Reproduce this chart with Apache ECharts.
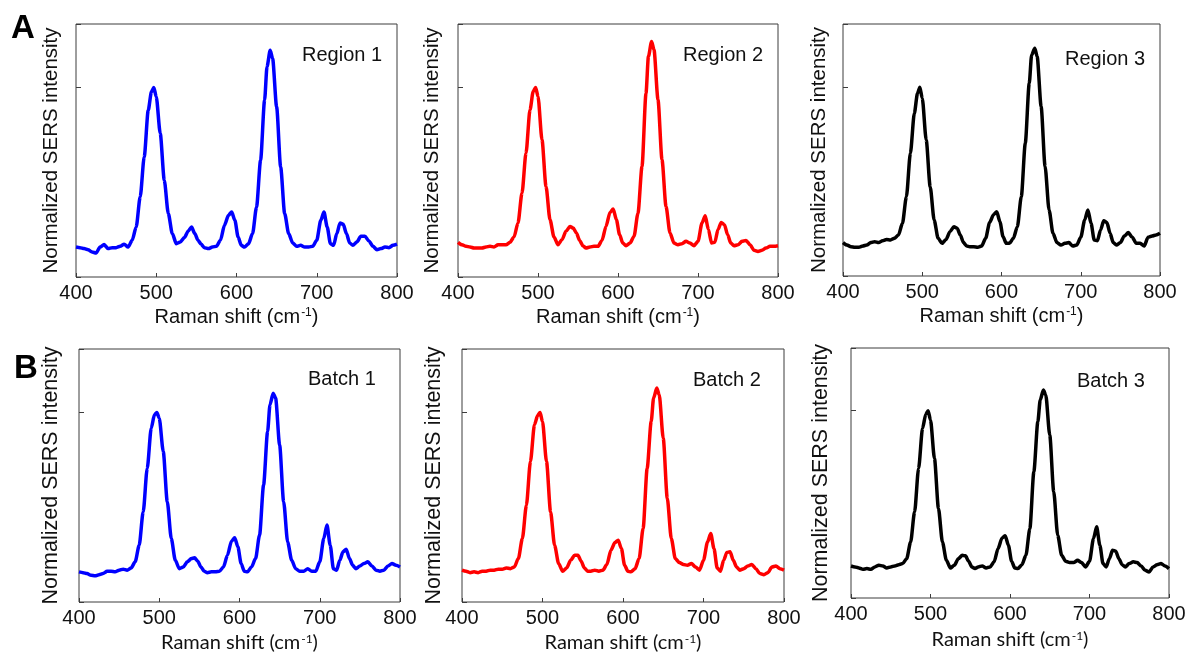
<!DOCTYPE html>
<html>
<head>
<meta charset="utf-8">
<title>SERS spectra</title>
<script src="https://cdn.jsdelivr.net/npm/echarts@6/dist/echarts.min.js"></script>
<style>
  html, body { margin: 0; padding: 0; background: #ffffff; }
  #chart { width: 1189px; height: 655px; }
</style>
</head>
<body>
<div id="chart"></div>
<script>
// Raman shift grid (cm-1) shared by every spectrum
const ramanShift = [
  400, 405, 410, 415, 420, 425, 430, 435, 440, 445,
  450, 455, 460, 465, 470, 475, 480, 485, 490, 494,
  497, 500, 505, 510, 515, 520, 525, 530, 535, 540,
  544, 548, 552, 556, 560, 565, 570, 575, 580, 585,
  590, 594, 598, 602, 606, 610, 615, 620, 625, 630,
  635, 638, 642, 645, 650, 655, 660, 665, 670, 675,
  680, 685, 690, 695, 700, 705, 709, 713, 717, 721,
  725, 729, 733, 737, 741, 745, 750, 755, 760, 765,
  770, 775, 780, 785, 790, 795, 800
];

// Normalized SERS intensity (497 cm-1 band = 1)
const region1 = [
  0.158, 0.155, 0.150, 0.144, 0.132, 0.127, 0.158, 0.171, 0.150, 0.155,
  0.155, 0.162, 0.173, 0.158, 0.194, 0.264, 0.423, 0.634, 0.880, 0.977,
  1.000, 0.951, 0.757, 0.511, 0.335, 0.229, 0.176, 0.185, 0.208, 0.243,
  0.264, 0.229, 0.194, 0.173, 0.155, 0.150, 0.158, 0.162, 0.194, 0.273,
  0.326, 0.343, 0.299, 0.211, 0.167, 0.158, 0.176, 0.229, 0.370, 0.616,
  0.933, 1.109, 1.197, 1.153, 0.898, 0.581, 0.335, 0.229, 0.180, 0.162,
  0.167, 0.158, 0.158, 0.162, 0.194, 0.299, 0.343, 0.264, 0.176, 0.167,
  0.229, 0.285, 0.278, 0.229, 0.180, 0.167, 0.185, 0.215, 0.215, 0.190,
  0.162, 0.144, 0.150, 0.158, 0.155, 0.167, 0.173
];
const region2 = [
  0.183, 0.170, 0.162, 0.158, 0.153, 0.153, 0.153, 0.158, 0.162, 0.158,
  0.170, 0.170, 0.170, 0.183, 0.211, 0.285, 0.443, 0.654, 0.882, 0.979,
  1.000, 0.953, 0.724, 0.478, 0.302, 0.211, 0.170, 0.197, 0.241, 0.267,
  0.258, 0.232, 0.193, 0.165, 0.153, 0.158, 0.162, 0.162, 0.193, 0.267,
  0.341, 0.359, 0.302, 0.223, 0.179, 0.165, 0.179, 0.214, 0.337, 0.583,
  0.970, 1.163, 1.243, 1.199, 0.935, 0.619, 0.373, 0.232, 0.179, 0.170,
  0.176, 0.188, 0.179, 0.165, 0.188, 0.285, 0.323, 0.250, 0.179, 0.183,
  0.250, 0.288, 0.276, 0.223, 0.179, 0.165, 0.170, 0.188, 0.193, 0.170,
  0.141, 0.135, 0.141, 0.153, 0.162, 0.162, 0.165
];
const region3 = [
  0.177, 0.164, 0.155, 0.152, 0.152, 0.159, 0.164, 0.177, 0.182, 0.177,
  0.187, 0.194, 0.191, 0.200, 0.217, 0.279, 0.420, 0.650, 0.862, 0.968,
  1.000, 0.942, 0.721, 0.473, 0.297, 0.200, 0.173, 0.194, 0.235, 0.261,
  0.253, 0.217, 0.177, 0.159, 0.155, 0.155, 0.152, 0.159, 0.200, 0.283,
  0.325, 0.340, 0.288, 0.208, 0.173, 0.173, 0.200, 0.261, 0.420, 0.703,
  1.021, 1.171, 1.207, 1.163, 0.898, 0.580, 0.350, 0.226, 0.177, 0.164,
  0.173, 0.177, 0.159, 0.164, 0.205, 0.297, 0.350, 0.279, 0.191, 0.187,
  0.244, 0.293, 0.283, 0.226, 0.177, 0.164, 0.177, 0.212, 0.230, 0.205,
  0.173, 0.173, 0.159, 0.205, 0.212, 0.217, 0.226
];
const batch1 = [
  0.159, 0.155, 0.150, 0.141, 0.138, 0.144, 0.150, 0.162, 0.162, 0.159,
  0.168, 0.173, 0.168, 0.180, 0.212, 0.300, 0.476, 0.705, 0.917, 0.988,
  1.000, 0.970, 0.794, 0.529, 0.335, 0.220, 0.176, 0.185, 0.212, 0.229,
  0.233, 0.215, 0.185, 0.162, 0.155, 0.159, 0.159, 0.162, 0.185, 0.247,
  0.321, 0.339, 0.291, 0.203, 0.162, 0.159, 0.185, 0.229, 0.353, 0.617,
  0.899, 1.041, 1.102, 1.076, 0.829, 0.529, 0.317, 0.220, 0.176, 0.162,
  0.162, 0.176, 0.162, 0.162, 0.212, 0.335, 0.406, 0.300, 0.176, 0.168,
  0.220, 0.265, 0.279, 0.229, 0.194, 0.176, 0.190, 0.203, 0.212, 0.190,
  0.168, 0.162, 0.168, 0.190, 0.203, 0.194, 0.185
];
const batch2 = [
  0.168, 0.162, 0.155, 0.159, 0.155, 0.162, 0.162, 0.168, 0.168, 0.173,
  0.173, 0.180, 0.176, 0.185, 0.229, 0.335, 0.511, 0.741, 0.935, 0.984,
  1.000, 0.952, 0.741, 0.476, 0.300, 0.203, 0.162, 0.180, 0.220, 0.247,
  0.247, 0.215, 0.180, 0.162, 0.162, 0.168, 0.162, 0.168, 0.198, 0.273,
  0.314, 0.326, 0.282, 0.194, 0.162, 0.159, 0.176, 0.229, 0.388, 0.705,
  0.952, 1.076, 1.129, 1.093, 0.864, 0.547, 0.335, 0.229, 0.208, 0.198,
  0.194, 0.203, 0.185, 0.168, 0.220, 0.317, 0.362, 0.282, 0.180, 0.162,
  0.220, 0.261, 0.265, 0.220, 0.185, 0.168, 0.176, 0.190, 0.198, 0.176,
  0.150, 0.144, 0.155, 0.185, 0.190, 0.176, 0.168
];
const batch3 = [
  0.171, 0.166, 0.160, 0.153, 0.157, 0.153, 0.166, 0.175, 0.171, 0.160,
  0.166, 0.171, 0.178, 0.184, 0.210, 0.299, 0.460, 0.692, 0.906, 0.980,
  1.000, 0.950, 0.745, 0.478, 0.299, 0.201, 0.160, 0.175, 0.210, 0.228,
  0.225, 0.196, 0.166, 0.157, 0.166, 0.171, 0.160, 0.166, 0.193, 0.264,
  0.321, 0.332, 0.282, 0.196, 0.160, 0.157, 0.178, 0.228, 0.371, 0.674,
  0.941, 1.057, 1.111, 1.084, 0.870, 0.567, 0.335, 0.228, 0.196, 0.189,
  0.189, 0.201, 0.189, 0.166, 0.196, 0.317, 0.380, 0.282, 0.184, 0.166,
  0.210, 0.255, 0.250, 0.210, 0.178, 0.166, 0.184, 0.193, 0.189, 0.171,
  0.148, 0.139, 0.166, 0.178, 0.184, 0.171, 0.157
];

const panelNames = ['Region 1', 'Region 2', 'Region 3', 'Batch 1', 'Batch 2', 'Batch 3'];
const panelData = [region1, region2, region3, batch1, batch2, batch3];
const sectionLetters = ['A', 'B'];
const xAxisTitle = 'Raman shift (cm{sup|-1})';
const yAxisTitle = 'Normalized SERS intensity';

// Layout of the six plot frames (pixels)
const frames = [
  { left: 76,  top: 24,  width: 321, height: 253, yGap: 14, yName: 20.5, xFont: 'Liberation Sans', xGap: 30, tag: [302, 45] },
  { left: 458, top: 24,  width: 320, height: 253, yGap: 15, yName: 20.5, xFont: 'Liberation Sans', xGap: 30, tag: [683, 45] },
  { left: 843, top: 24,  width: 317, height: 252, yGap: 13, yName: 20.5, xFont: 'Liberation Sans', xGap: 30, tag: [1065, 49] },
  { left: 79,  top: 349, width: 321, height: 253, yGap: 17, yName: 21.5, xFont: 'Lato', xGap: 31, tag: [308, 369] },
  { left: 462, top: 349, width: 322, height: 253, yGap: 17, yName: 21.5, xFont: 'Lato', xGap: 31, tag: [693, 370] },
  { left: 851, top: 348, width: 318, height: 250, yGap: 19, yName: 21.5, xFont: 'Lato', xGap: 32, tag: [1077, 371] }
];
const lineColors = ['#0000ff', '#ff0000', '#000000', '#0000ff', '#ff0000', '#000000'];

const frameColor = '#3c3c3c';
const textColor = '#111111';
const sansFont = 'Liberation Sans';

const grid = [], xAxis = [], yAxis = [], series = [], graphic = [];

frames.forEach((f, i) => {
  grid.push({
    left: f.left, top: f.top, width: f.width, height: f.height,
    show: true, borderColor: frameColor, borderWidth: 1, backgroundColor: 'transparent'
  });
  xAxis.push({
    gridIndex: i, type: 'value', min: 400, max: 800, interval: 100,
    axisLine: { show: false },
    axisTick: { show: true, inside: true, length: 4, lineStyle: { color: frameColor, width: 1 } },
    splitLine: { show: false },
    axisLabel: { show: true, margin: 6, fontSize: 20, fontFamily: sansFont, color: textColor },
    name: xAxisTitle, nameLocation: 'middle', nameGap: f.xGap,
    nameTextStyle: {
      fontSize: 20, fontFamily: f.xFont, color: textColor,
      rich: { sup: { fontSize: 12, fontFamily: f.xFont, color: textColor, verticalAlign: 'top', padding: [0, 0, 6, 1] } }
    }
  });
  yAxis.push({
    gridIndex: i, type: 'value', min: 0, max: 1.335, interval: 1,
    axisLine: { show: false },
    axisTick: { show: true, inside: true, length: 5, lineStyle: { color: frameColor, width: 1 } },
    splitLine: { show: false },
    axisLabel: { show: false },
    name: yAxisTitle, nameLocation: 'middle', nameGap: f.yGap,
    nameTextStyle: { fontSize: f.yName, fontFamily: sansFont, color: textColor }
  });
  series.push({
    type: 'line', xAxisIndex: i, yAxisIndex: i,
    data: ramanShift.map((x, k) => [x, panelData[i][k]]),
    showSymbol: false, smooth: 0.25, smoothMonotone: 'x',
    lineStyle: { color: lineColors[i], width: 3.5 },
    silent: true, animation: false
  });
  graphic.push({
    type: 'text', left: f.tag[0], top: f.tag[1], silent: true,
    style: { text: panelNames[i], fontSize: 20, fontFamily: sansFont, fill: textColor }
  });
});

graphic.push(
  { type: 'text', left: 11, top: 12, silent: true,
    style: { text: sectionLetters[0], fontSize: 33, fontWeight: 'bold', fontFamily: sansFont, fill: '#000' } },
  { type: 'text', left: 14, top: 352, silent: true,
    style: { text: sectionLetters[1], fontSize: 33, fontWeight: 'bold', fontFamily: sansFont, fill: '#000' } }
);

const chart = echarts.init(document.getElementById('chart'), null, { renderer: 'canvas' });
chart.setOption({
  backgroundColor: '#ffffff',
  animation: false,
  grid, xAxis, yAxis, series, graphic
});
</script>
</body>
</html>
